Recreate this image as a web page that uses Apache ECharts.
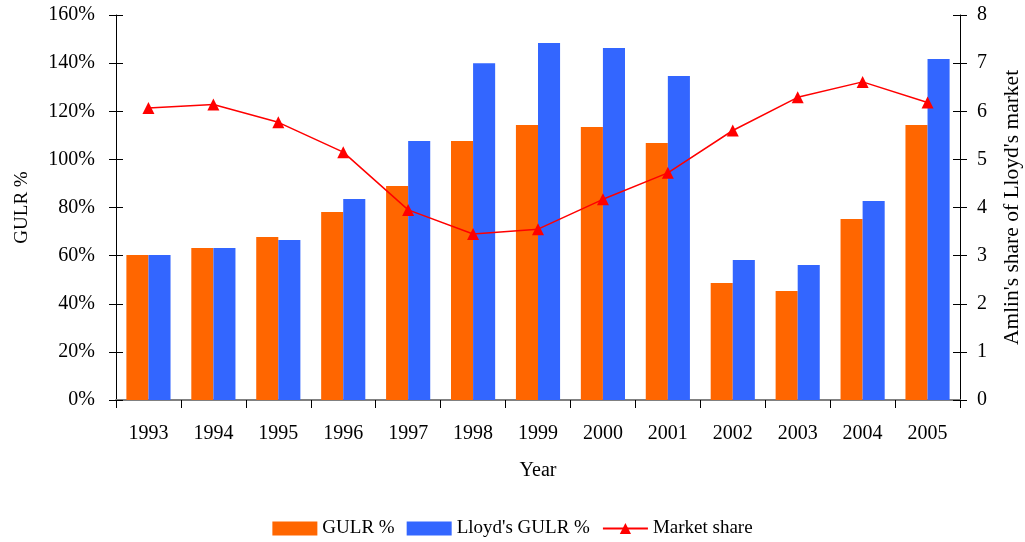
<!DOCTYPE html>
<html>
<head>
<meta charset="utf-8">
<script src="https://cdn.jsdelivr.net/npm/echarts@6/dist/echarts.min.js"></script>
<style>
  html, body { margin: 0; padding: 0; background: #fff; }
  #chart { width: 1025px; height: 542px; }
</style>
</head>
<body>
<div id="chart"></div>
<script>
const years = ['1993', '1994', '1995', '1996', '1997', '1998', '1999', '2000', '2001', '2002', '2003', '2004', '2005'];
const gulr = [60.3, 63.2, 67.7, 78.1, 88.9, 107.6, 114.3, 113.5, 106.8, 48.6, 45.3, 75.2, 114.3];
const lloydsGulr = [60.3, 63.2, 66.5, 83.5, 107.6, 140.0, 148.4, 146.3, 134.6, 58.2, 56.1, 82.7, 141.7];
const marketShare = [6.07, 6.14, 5.77, 5.15, 3.95, 3.45, 3.55, 4.17, 4.72, 5.60, 6.29, 6.61, 6.18];

const font = 'Liberation Serif';
const chart = echarts.init(document.getElementById('chart'));

// extra axis that only draws the inner half of the ticks, so ticks cross the axis line
function innerTicks(position, max, interval) {
    return {
        type: 'value',
        position: position,
        min: 0,
        max: max,
        interval: interval,
        splitLine: { show: false },
        axisLine: { show: false },
        axisLabel: { show: false },
        axisTick: { show: true, inside: true, length: 7, lineStyle: { color: '#000' } }
    };
}

chart.setOption({
    animation: false,
    textStyle: { fontFamily: font, color: '#000' },
    grid: { left: 116, right: 65, top: 15, bottom: 142, outerBoundsMode: 'none', containLabel: false },
    legend: {
        top: 514,
        left: 'center',
        itemWidth: 45,
        itemHeight: 14,
        itemGap: 12,
        textStyle: { fontFamily: font, fontSize: 19, color: '#000' },
        data: [
            { name: 'GULR %', icon: 'rect' },
            { name: "Lloyd's GULR %", icon: 'rect' },
            { name: 'Market share' }
        ]
    },
    xAxis: {
        type: 'category',
        data: years,
        name: 'Year',
        nameLocation: 'middle',
        nameGap: 61,
        nameTextStyle: { fontFamily: font, fontSize: 20, color: '#000' },
        axisLine: { lineStyle: { color: '#808080', width: 2 } },
        axisTick: { show: true, inside: false, length: 8, lineStyle: { color: '#000' } },
        axisLabel: { fontFamily: font, fontSize: 20, color: '#000', margin: 24 }
    },
    yAxis: [
        {
            type: 'value',
            min: 0,
            max: 160,
            interval: 20,
            name: 'GULR %',
            nameLocation: 'middle',
            nameRotate: 90,
            nameGap: 84,
            nameTextStyle: { fontFamily: font, fontSize: 19, color: '#000' },
            splitLine: { show: false },
            axisLine: { show: true, lineStyle: { color: '#000' } },
            axisTick: { show: true, length: 7, lineStyle: { color: '#000' } },
            axisLabel: { fontFamily: font, fontSize: 20, color: '#000', margin: 21, formatter: '{value}%' }
        },
        {
            type: 'value',
            min: 0,
            max: 8,
            interval: 1,
            name: "Amlin's share of Lloyd's market",
            nameLocation: 'middle',
            nameRotate: 90,
            nameGap: 41,
            nameTextStyle: { fontFamily: font, fontSize: 21.5, color: '#000' },
            splitLine: { show: false },
            axisLine: { show: true, lineStyle: { color: '#000' } },
            axisTick: { show: true, length: 7, lineStyle: { color: '#000' } },
            axisLabel: { fontFamily: font, fontSize: 20, color: '#000', margin: 17 }
        },
        innerTicks('left', 160, 20),
        innerTicks('right', 8, 1)
    ],
    series: [
        {
            name: 'GULR %',
            type: 'bar',
            data: gulr,
            barGap: '0%',
            barCategoryGap: '32%',
            itemStyle: { color: '#FF6600' }
        },
        {
            name: "Lloyd's GULR %",
            type: 'bar',
            data: lloydsGulr,
            itemStyle: { color: '#3366FF' }
        },
        {
            name: 'Market share',
            type: 'line',
            yAxisIndex: 1,
            data: marketShare,
            symbol: 'triangle',
            symbolSize: 12,
            lineStyle: { color: '#FF0000', width: 1.5 },
            itemStyle: { color: '#FF0000' }
        }
    ]
});
</script>
</body>
</html>
